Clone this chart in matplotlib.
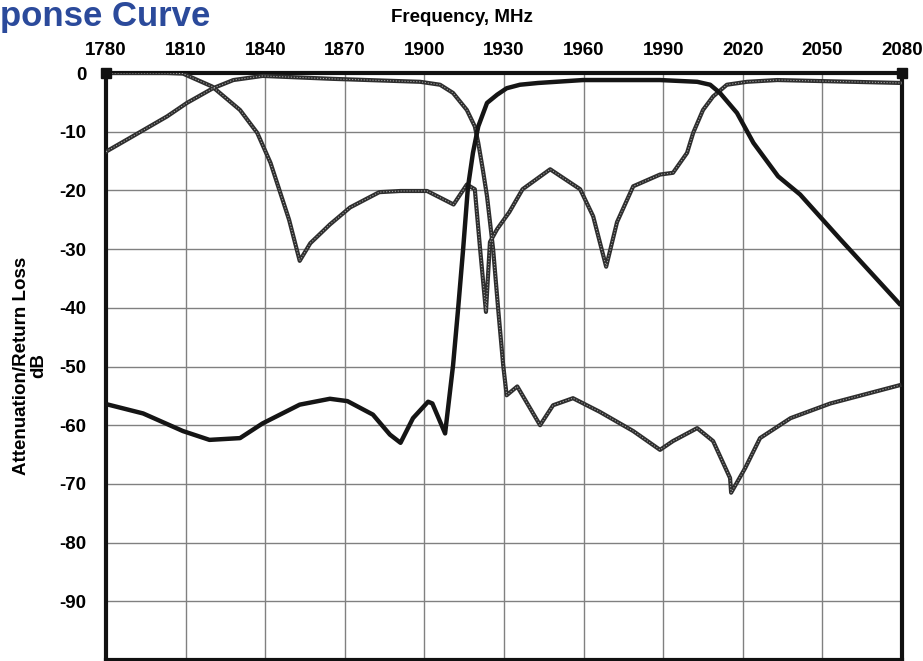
import numpy as np
import matplotlib
matplotlib.use('Agg')
import matplotlib.pyplot as plt

plt.rcParams['font.family'] = ['Liberation Sans', 'DejaVu Sans']
plt.rcParams['font.weight'] = 'bold'
plt.rcParams['axes.unicode_minus'] = False

# Rx filter transmission (thick line)
rx_f = [1780, 1794, 1809, 1819, 1830.5, 1839, 1853, 1864.4, 1871, 1880.6, 1887, 1891,
        1895.7, 1901.4, 1903, 1907.8, 1910.8, 1912.7, 1914.6, 1916.4, 1918.3, 1920.3,
        1923.6, 1927.4, 1931, 1936, 1942.8, 1959.8, 1988.8, 2002.8, 2007.7, 2011.4,
        2017.8, 2024, 2033.3, 2041.6, 2056.7, 2079]
rx_db = [-56.4, -58, -61, -62.5, -62.2, -59.7, -56.5, -55.5, -55.9, -58.2, -61.6, -63,
         -58.8, -56, -56.3, -61.4, -49.8, -40.2, -30, -19.5, -13.6, -9.1,
         -5.1, -3.7, -2.6, -2, -1.7, -1.2, -1.2, -1.5, -2, -3.4,
         -6.8, -11.9, -17.6, -20.7, -28.3, -39.3]

# Tx filter transmission (beaded line)
tx_f = [1780, 1790, 1803, 1810.5, 1820.3, 1828, 1839, 1865.6, 1898.4, 1905.9, 1910.8,
        1916, 1919, 1920.3, 1922, 1923.6, 1925.9, 1927.8, 1929.7, 1931, 1935, 1943.6,
        1948.5, 1956, 1966, 1978.7, 1988.8, 1993.7, 2002.8, 2008.8, 2015.2, 2015.6,
        2020.9, 2026.5, 2038, 2053, 2079]
tx_db = [-13.4, -10.8, -7.4, -5.1, -2.6, -1.2, -0.5, -1, -1.5, -2, -3.4,
         -6.3, -9.1, -11.9, -16.4, -21, -30, -40.2, -49.8, -54.9, -53.4, -60,
         -56.6, -55.4, -57.7, -61, -64.2, -62.7, -60.5, -62.7, -69, -71.5,
         -67.3, -62.2, -58.8, -56.3, -53.2]

# Antenna return loss (beaded line)
rl_f = [1780, 1803, 1809, 1820, 1830.5, 1837, 1842, 1849, 1853, 1857, 1864.4,
        1872, 1883, 1891, 1901, 1911, 1916, 1919, 1921, 1923.2, 1924.7, 1927.4,
        1932, 1937, 1947.4, 1958.7, 1963.6, 1968.5, 1972.6, 1978.7, 1988.8,
        1993.7, 1999, 2001.3, 2005, 2008.8, 2014, 2021.6, 2033, 2080]
rl_db = [0, 0, -0.1, -2.3, -6.3, -10.2, -15.3, -25, -32, -29, -25.8,
         -22.9, -20.3, -20.1, -20.1, -22.4, -19, -19.8, -30, -40.7, -28.8, -26.6,
         -23.7, -19.8, -16.4, -19.8, -24.4, -33, -25.4, -19.3, -17.3,
         -17, -13.6, -10.2, -6.3, -4, -2, -1.5, -1.2, -1.7]

xticks = np.arange(1780, 2081, 30)
yticks = np.arange(0, -91, -10)

fig = plt.figure(figsize=(9.23, 6.61), dpi=100)
ax = fig.add_axes([106 / 923, 1 - 660 / 661, 796 / 923, 587 / 661])

ax.set_xlim(1780, 2080)
ax.set_ylim(-100, 0)
ax.set_xticks(xticks)
ax.set_yticks(yticks)
ax.xaxis.tick_top()
ax.tick_params(axis='both', length=0, labelsize=13.5)
ax.tick_params(axis='x', pad=10)
ax.tick_params(axis='y', pad=14)
ax.grid(True, color='#808080', lw=1)
ax.set_axisbelow(True)
for s in ax.spines.values():
    s.set_linewidth(3)
    s.set_color('#111111')

def beaded(x, y):
    ax.plot(x, y, color='#2e2e2e', lw=3, solid_joinstyle='round', zorder=3)
    ax.plot(x, y, color='white', lw=0.7, ls=(0, (1.2, 1.8)), alpha=0.6, zorder=4)

beaded(rl_f, rl_db)
beaded(tx_f, tx_db)
ax.plot(rx_f, rx_db, color='#151515', lw=3.2, solid_joinstyle='round', zorder=5)

# end markers on the 0 dB line
ax.plot([1780], [0], marker='s', ms=7, color='#111111', clip_on=False, zorder=6)
ax.plot([2080], [0], marker='s', ms=7, color='#111111', clip_on=False, zorder=6)

fig.text(462 / 923, 1 - 18 / 661, 'Frequency, MHz', ha='center', va='center',
         fontsize=13.5, fontweight='bold')
fig.text(30 / 923, 1 - 366 / 661, 'Attenuation/Return Loss\ndB', rotation=90,
         ha='center', va='center', multialignment='center', fontsize=13.5,
         fontweight='bold', linespacing=1.0)
fig.text(0, 1 - 26 / 661, 'ponse Curve', ha='left', va='baseline',
         fontsize=25, fontweight='bold', color='#2b4a9b')

fig.savefig('out.png', dpi=100)
